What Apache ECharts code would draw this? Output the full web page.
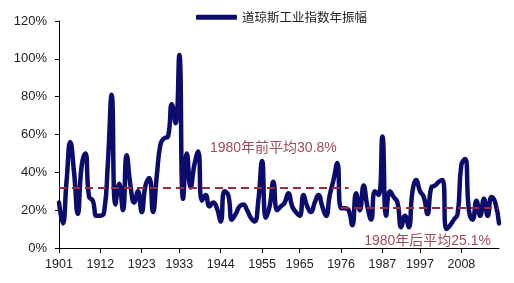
<!DOCTYPE html>
<html>
<head>
<meta charset="utf-8">
<script src="https://cdn.jsdelivr.net/npm/echarts@6/dist/echarts.min.js"></script>
<style>html,body{margin:0;padding:0;background:#fff;}#c{width:514px;height:283px;}</style>
</head>
<body>
<div id="c"></div>
<script>
const years = ['1901','1902','1903','1904','1905','1906','1907','1908','1909','1910',
'1911','1912','1913','1914','1915','1916','1917','1918','1919','1920',
'1921','1922','1923','1924','1925','1926','1927','1928','1929','1930',
'1931','1932','1933','1934','1935','1936','1937','1938','1939','1940',
'1941','1942','1943','1944','1945','1946','1947','1948','1949','1950',
'1951','1952','1953','1954','1955','1956','1957','1958','1959','1960',
'1961','1962','1963','1964','1965','1966','1967','1968','1969','1970',
'1971','1972','1973','1974','1975','1976','1977','1978','1979','1980',
'1981','1982','1983','1984','1985','1986','1987','1988','1989','1990',
'1991','1992','1993','1994','1995','1996','1997','1998','1999','2000',
'2001','2002','2003','2004','2005','2006','2007','2008','2009','2010',
'2011','2012','2013','2014','2015','2016','2017','2018'];

const amplitude = [24,13,35,56,40,18,43,50,27,25,
17,17,19,45,81,23,34,20,49,33,
24,30,19,33,37,19,38,55,58,59,
76,66,102,26,50,32,44,51,25,28,
22,24,21,14,30,28,15,18,22,23,
20,16,14,25,46,16,22,35,20,22,
24,29,22,19,17,28,22,19,24,28,
22,17,28,36,45,21,21,20,12,29,
20,33,22,15,30,28,59,17,30,27,
24,11,17,11,30,36,30,27,18,32,
33,35,36,10,12,15,18,44,47,20,
15,25,17,26,17,27,24,13];

const tickYears = ['1901','1912','1923','1933','1944','1955','1965','1976','1987','1997','2008'];
const yTicks = [0,20,40,60,80,100,120];

const seriesName = '道琼斯工业指数年振幅';
const avgBefore = {label:'1980年前平均30.8%', level:32, from:'1901', to:'1978', labelAt:['1958',53]};
const avgAfter = {label:'1980年后平均25.1%', level:21.4, from:'1976', to:'2018', labelAt:['1999',3.6]};

const chart = echarts.init(document.getElementById('c'), null, {renderer:'canvas'});
const isTick = (i, v) => tickYears.indexOf(v) >= 0;
const dashColor = '#9e2a3a';
const textColor = '#a04a58';
const fontCJK = '"Liberation Sans", "Noto Sans CJK SC", sans-serif';

chart.setOption({
  animation:false,
  backgroundColor:'#fff',
  grid:{left:59, right:15, top:21, bottom:35, containLabel:false},
  legend:{
    data:[seriesName], left:196, top:11, padding:0,
    icon:'roundRect', itemWidth:41, itemHeight:5,
    itemStyle:{color:'#0c0c6c'},
    textStyle:{fontSize:12.5, color:'#222', fontFamily:'"Noto Sans CJK SC", sans-serif'}
  },
  xAxis:{
    type:'category', data:years, boundaryGap:false,
    axisLine:{lineStyle:{color:'#000', width:1}},
    axisTick:{show:true, interval:isTick, length:5, lineStyle:{color:'#000'}},
    axisLabel:{interval:isTick, margin:10, fontSize:12.5, color:'#222', fontFamily:'"Liberation Sans", Arial, sans-serif'},
    splitLine:{show:false}
  },
  yAxis:{
    type:'value', min:yTicks[0], max:yTicks[yTicks.length-1], interval:20,
    axisLine:{show:true, lineStyle:{color:'#000', width:1}},
    axisTick:{show:true, length:4, lineStyle:{color:'#000'}},
    axisLabel:{formatter:'{value}%', margin:12, fontSize:13, color:'#222', fontFamily:'"Liberation Sans", Arial, sans-serif'},
    splitLine:{show:false}
  },
  series:[{
    name:seriesName, type:'line', data:amplitude, smooth:0.5,
    symbol:'none', showSymbol:false,
    lineStyle:{color:'#0c0c6c', width:4.5, cap:'round', join:'round'},
    itemStyle:{color:'#0c0c6c'},
    markLine:{
      silent:true, symbol:['none','none'], animation:false,
      label:{show:false},
      lineStyle:{color:dashColor, width:2, type:[8,5]},
      data:[
        [{coord:[avgBefore.from, avgBefore.level]},{coord:[avgBefore.to, avgBefore.level]}],
        [{coord:[avgAfter.from, avgAfter.level]},{coord:[avgAfter.to, avgAfter.level]}]
      ]
    },
    markPoint:{
      silent:true, symbol:'rect', symbolSize:1, animation:false,
      itemStyle:{color:'rgba(0,0,0,0)'},
      label:{show:true, position:'inside', fontSize:14, color:textColor, fontFamily:fontCJK},
      data:[
        {coord:avgBefore.labelAt, label:{formatter:avgBefore.label}},
        {coord:avgAfter.labelAt, label:{formatter:avgAfter.label}}
      ]
    }
  }]
});
</script>
</body>
</html>
